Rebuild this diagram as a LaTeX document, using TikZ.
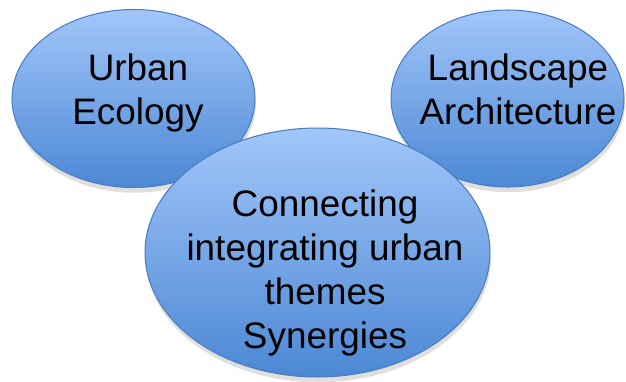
\documentclass[tikz,border=0pt]{standalone}
\usepackage{fontspec}
\setmainfont{Liberation Sans}
\usetikzlibrary{shapes.geometric,shadows}

\definecolor{blobtop}{HTML}{A2C6FA}
\definecolor{blobbottom}{HTML}{4C88D4}
\definecolor{blobline}{HTML}{4A7EC0}

\begin{document}
\begin{tikzpicture}[x=0.02cm, y=-0.02cm,
    blob/.style={ellipse, draw=blobline, line width=0.6pt,
        top color=blobtop, bottom color=blobbottom,
        drop shadow={shadow xshift=0.5pt, shadow yshift=-3pt, opacity=0.25}},
    label text/.style={align=center, inner sep=0pt,
        font=\fontsize{21}{25}\selectfont}]

    % fixed frame of the picture
    \useasboundingbox (0,0) rectangle (626,382);

    % --- the two outer themes ---
    \node[blob, minimum width=4.86cm, minimum height=3.56cm] (ecology) at (133.5,98.5) {};
    \node[blob, minimum width=4.66cm, minimum height=3.54cm] (landscape) at (507.5,98.5) {};

    % --- the central theme, drawn on top ---
    \node[blob, minimum width=6.9cm, minimum height=4.98cm] (hub) at (317.5,252.5) {};

    % --- texts ---
    \node[label text] (ecologytext) at (138,93) {Urban\\Ecology};
    \node[label text] (landscapetext) at (518,89) {Landscape\\Architecture};
    \node[label text] (hubtext) at (325,273) {Connecting\\integrating urban\\themes\\Synergies};

\end{tikzpicture}
\end{document}
